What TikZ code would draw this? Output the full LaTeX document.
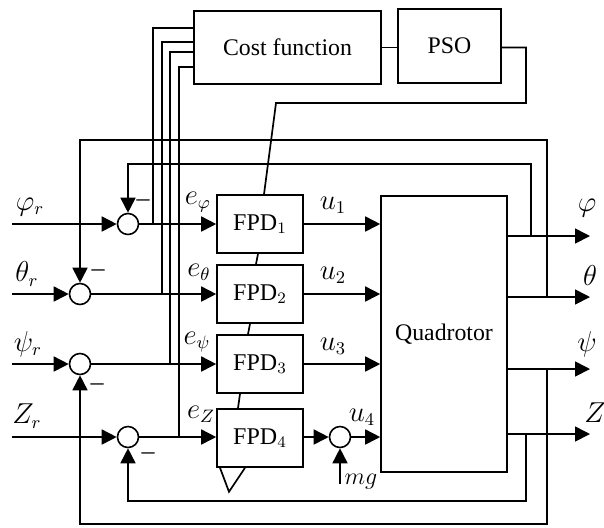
\documentclass[tikz,border=0pt]{standalone}
\usepackage{fontspec}
\setmainfont{Liberation Serif}
\usetikzlibrary{arrows.meta}
\begin{document}
\begin{tikzpicture}[x=0.5pt,y=-0.5pt,
  ln/.style={line width=0.85pt},
  arr/.style={ln,-{Triangle[length=7.5pt,width=7.5pt]}},
  blk/.style={draw,line width=0.8pt,inner sep=0pt,font=\fontsize{11.9}{14}\selectfont},
  fpd/.style={blk,minimum width=43pt,minimum height=29pt,font=\fontsize{12}{14}\selectfont},
  sumc/.style={draw,circle,line width=0.8pt,minimum size=10.5pt,inner sep=0pt},
  lbl/.style={font=\fontsize{13.5}{15}\selectfont,inner sep=0pt},
  mns/.style={font=\fontsize{13}{15}\selectfont,inner sep=0pt}]
\useasboundingbox (0,0) rectangle (604,527);
% blocks
\node[blk,minimum width=93.5pt,minimum height=36.5pt] (cost) at (287.5,47.5) {Cost function};
\node[blk,minimum width=51.5pt,minimum height=37pt] (pso) at (449.5,46) {PSO};
\node[blk,minimum width=63pt,minimum height=138pt] (quad) at (444,334) {Quadrotor};
\node[fpd] (f1) at (260,224) {FPD$_1$};
\node[fpd] (f2) at (260,294) {FPD$_2$};
\node[fpd] (f3) at (260,364) {FPD$_3$};
\node[fpd] (f4) at (260,438) {FPD$_4$};
% sums
\node[sumc] (s1) at (128,224) {};
\node[sumc] (s2) at (80,294) {};
\node[sumc] (s3) at (80,364) {};
\node[sumc] (s4) at (128,437) {};
\node[sumc] (s5) at (340,437) {};
% inputs
\coordinate (i1) at (12,224);
\coordinate (i2) at (12,294);
\coordinate (i3) at (12,364);
\coordinate (i4) at (12,437);
\draw[arr] (i1) -- (s1);
\draw[arr] (i2) -- (s2);
\draw[arr] (i3) -- (s3);
\draw[arr] (i4) -- (s4);
% errors
\draw[arr] (s1) -- (f1.west |- s1);
\draw[arr] (s2) -- (f2.west |- s2);
\draw[arr] (s3) -- (f3.west |- s3);
\draw[arr] (s4) -- (f4.west |- s4);
% controller outputs
\draw[arr] (f1.east) -- (f1.east -| quad.west);
\draw[arr] (f2.east) -- (f2.east -| quad.west);
\draw[arr] (f3.east) -- (f3.east -| quad.west);
\draw[arr] (f4.east |- s5) -- (s5);
\draw[arr] (s5) -- (s5 -| quad.west);
\coordinate (mg) at (340,484);
\draw[arr] (mg) -- (s5);
% cost function inputs
\coordinate (t1) at (153,224);
\coordinate (t2) at (162,294);
\coordinate (t3) at (170,364);
\coordinate (t4) at (179,437);
\draw[ln] (t1) |- ([yshift=9.75pt]cost.west);
\draw[ln] (t2) |- ([yshift=2.75pt]cost.west);
\draw[ln] (t3) |- ([yshift=-2.25pt]cost.west);
\draw[ln] (t4) |- ([yshift=-9.75pt]cost.west);
% cost - pso
\draw[ln] (cost.east) -- (cost.east -| pso.west);
\coordinate (pa) at (526,103);
\coordinate (pb) at (276,103);
\draw[ln] ([yshift=-0.75pt]pso.east) -| (pa) -- (pb) -- ([xshift=2pt]f1.north);
\draw[ln] ([xshift=-1pt]f1.south) -- ([xshift=-2pt]f2.north);
\draw[ln] ([xshift=-5pt]f2.south) -- ([xshift=-6pt]f3.north);
\draw[ln] ([xshift=-10pt]f3.south) -- ([xshift=-11pt]f4.north);
\draw[ln] ([xshift=-20pt]f4.south) -- ++(4.5pt,-12pt) -- ([xshift=-7.5pt]f4.south);
% plant outputs
\coordinate (o1) at (590,236);
\coordinate (o2) at (590,297);
\coordinate (o3) at (590,369);
\coordinate (o4) at (590,434);
\draw[arr] (quad.east |- o1) -- (o1);
\draw[arr] (quad.east |- o2) -- (o2);
\draw[arr] (quad.east |- o3) -- (o3);
\draw[arr] (quad.east |- o4) -- (o4);
% feedback
\coordinate (b1) at (531,236);
\coordinate (b2) at (547,297);
\coordinate (b3) at (547,369);
\coordinate (b4) at (526,434);
\draw[arr] (b1) -- (531,164) -| (s1);
\draw[arr] (b2) -- (547,140) -| (s2);
\draw[arr] (b3) -- (547,524) -| (s3);
\draw[arr] (b4) -- (526,501) -| (s4);
% labels
\node[lbl] (lpr) at (30,207) {$\varphi_r$};
\node[lbl] (ltr) at (27,274) {$\theta_r$};
\node[lbl] (lsr) at (28,344) {$\psi_r$};
\node[lbl] (lzr) at (27,416) {$Z_r$};
\node[lbl] (le1) at (198,202) {$e_\varphi$};
\node[lbl] (le2) at (199,272) {$e_\theta$};
\node[lbl] (le3) at (197,342) {$e_\psi$};
\node[lbl] (le4) at (201,414) {$e_Z$};
\node[lbl] (lu1) at (333,205) {$u_1$};
\node[lbl] (lu2) at (333,275) {$u_2$};
\node[lbl] (lu3) at (333,346) {$u_3$};
\node[lbl] (lu4) at (362,417) {$u_4$};
\node[lbl,font=\fontsize{12.5}{15}\selectfont] (lmg) at (361,482) {$mg$};
\node[lbl] (lph) at (587,208) {$\varphi$};
\node[lbl] (lth) at (590,275) {$\theta$};
\node[lbl] (lps) at (587,344) {$\psi$};
\node[lbl] (lz) at (595,413) {$Z$};
\node[mns] (m1) at (143,203) {–};
\node[mns] (m2) at (98,273) {–};
\node[mns] (m3) at (97,387) {–};
\node[mns] (m4) at (148,456) {–};
\end{tikzpicture}
\end{document}
